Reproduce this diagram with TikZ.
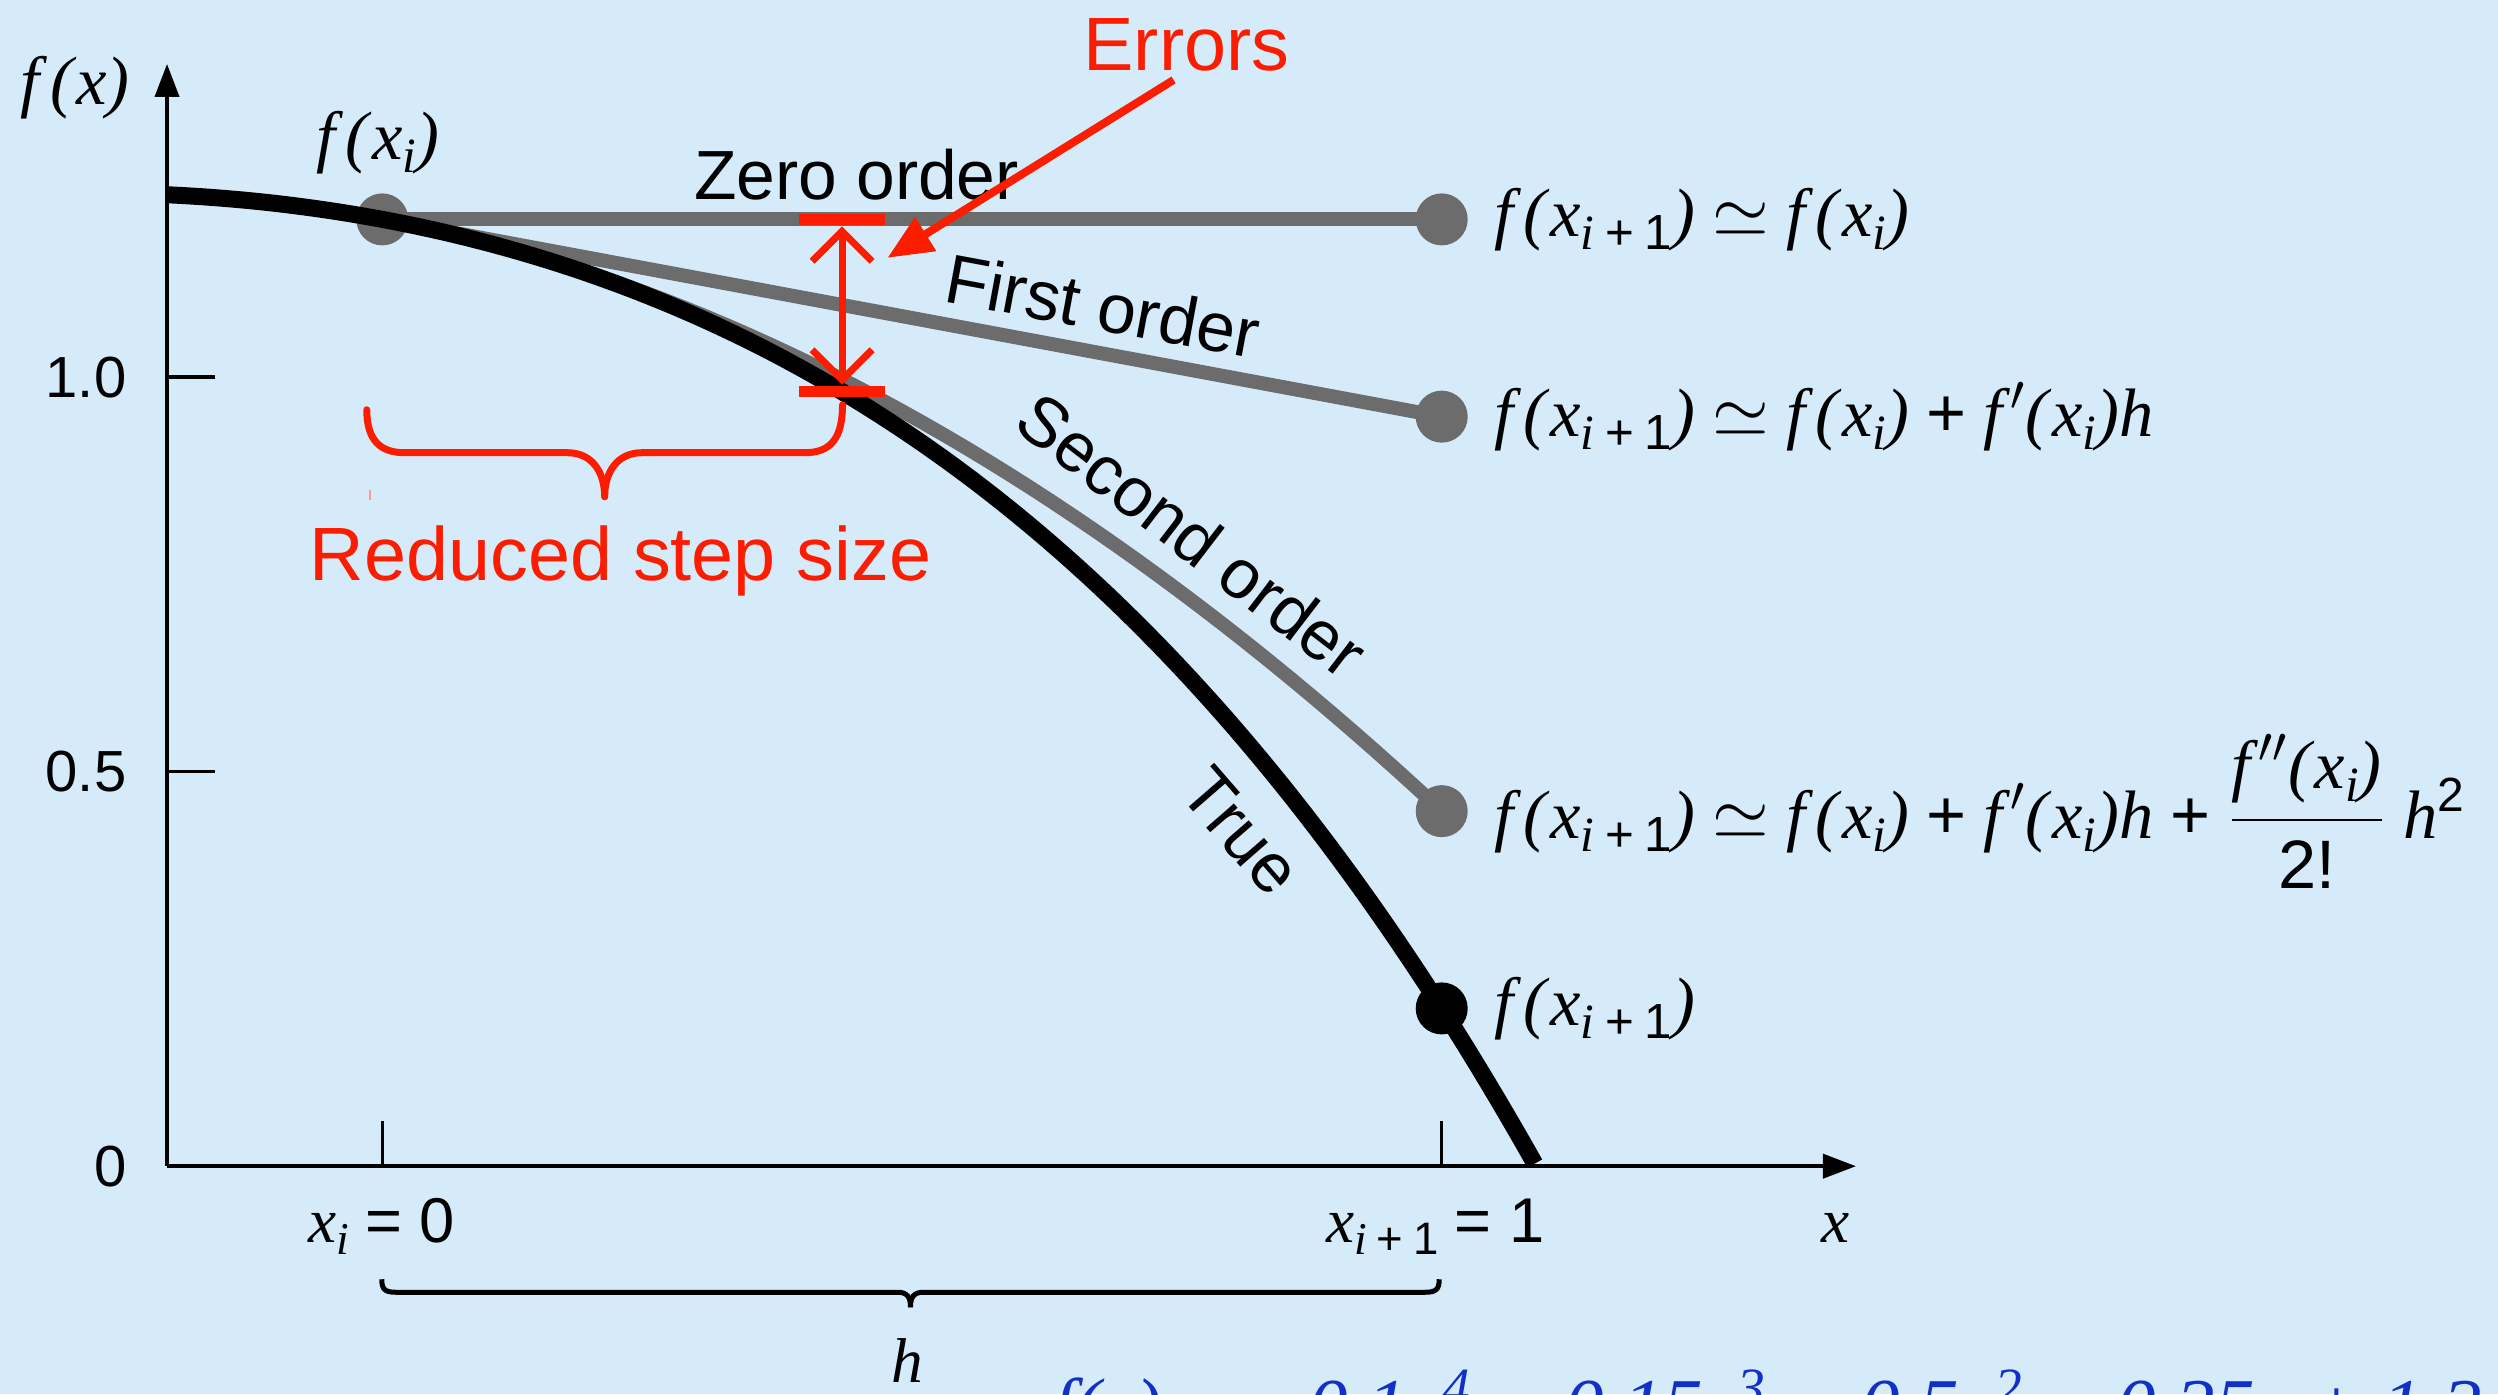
\documentclass[tikz,border=0pt]{standalone}
\usepackage{fontspec}
\setmainfont{Liberation Serif}
\setsansfont{Liberation Sans}
\usetikzlibrary{arrows.meta,calc}
\definecolor{bg}{RGB}{213,235,250}
\definecolor{lgray}{RGB}{108,108,108}
\definecolor{ered}{RGB}{252,28,0}
\definecolor{fblue}{RGB}{18,48,200}
\newcommand\lo[1]{\raisebox{-0.42ex}{\scalebox{0.72}{#1}}}
\newcommand\xsi{\textit{x}\lo{\textit{i}}}
\newcommand\xsip{\textit{x}\lo{\textit{i}\hspace{0.22em}\textsf{+}\hspace{0.22em}\textsf{1}}}
\newcommand\fof[1]{\textit{f}\kern0.04em\textit{(}#1\textit{)}}
\tikzset{
  mathlbl/.style={font=\fontsize{19.5}{23}\selectfont, inner sep=0pt},
  axlbl/.style={font=\fontsize{18}{22}\selectfont, inner sep=0pt},
  sanslbl/.style={font=\sffamily\fontsize{19.8}{23}\selectfont, inner sep=0pt},
  redlbl/.style={font=\sffamily\fontsize{21.5}{26}\selectfont, text=ered, inner sep=0pt},
  ticklbl/.style={font=\sffamily\fontsize{16.5}{20}\selectfont, inner sep=0pt},
  graydot/.style={circle, fill=lgray, minimum size=0.52cm, inner sep=0pt},
  blackdot/.style={circle, fill=black, minimum size=0.52cm, inner sep=0pt},
  axisline/.style={line width=0.04cm, -{Triangle[length=0.33cm,width=0.24cm]}},
  tickline/.style={line width=0.035cm},
  graycurve/.style={line width=0.14cm, draw=lgray},
  truecurve/.style={line width=0.17cm, draw=black},
  redline/.style={draw=ered, line width=0.07cm},
}
\begin{document}
\begin{tikzpicture}
\useasboundingbox (0,0) rectangle (24.98,13.94);
\clip (0,0) rectangle (24.98,13.94);
\fill[bg] (0,0) rectangle (24.98,13.94);
% ---------------- data scope ----------------
\begin{scope}[shift={(3.823,2.278)}, x=10.594cm, y=7.89cm]
  \coordinate (O) at (-0.2032,0);
  \coordinate (ytop) at (-0.2032,1.397);
  \coordinate (xend) at (1.391,0);
  \coordinate (tk10) at (-0.2032,1);
  \coordinate (tk05) at (-0.2032,0.5);
  \coordinate (tkx0) at (0,0);
  \coordinate (tkx1) at (1,0);
  \draw[axisline] (O) -- (ytop);
  \draw[axisline] (O) -- (xend);
  \draw[tickline] (tk10) -- ++(0.48cm,0);
  \draw[tickline] (tk05) -- ++(0.48cm,0);
  \draw[tickline] (tkx0) -- ++(0,0.45cm);
  \draw[tickline] (tkx1) -- ++(0,0.45cm);
  % dots
  \node[graydot] (fi) at (0,1.2) {};
  \node[graydot] (z1) at (1,1.2) {};
  \node[graydot] (f1) at (1,0.95) {};
  \node[graydot] (s1) at (1,0.45) {};
  % approximations
  \draw[graycurve] (fi.center) -- (z1.center);
  \draw[graycurve] (fi.center) -- (f1.center);
  \draw[graycurve] plot[domain=0:1, samples=50] (\x,{1.2-0.25*\x-0.5*\x*\x});
  % true function
  \draw[truecurve] plot[domain=-0.2032:1.0892, samples=120]
     (\x,{-0.1*(\x)*(\x)*(\x)*(\x)-0.15*(\x)*(\x)*(\x)-0.5*(\x)*(\x)-0.25*(\x)+1.2});
  \node[blackdot] (t1) at (1,0.2) {};
  % error bar
  \coordinate (eT) at (0.434,1.2);
  \coordinate (eB) at (0.434,0.9815);
\end{scope}
% ---------------- labels ----------------
\node[ticklbl, anchor=east] (l10) at ([xshift=-0.4cm]tk10) {1.0};
\node[ticklbl, anchor=east] (l05) at ([xshift=-0.4cm]tk05) {0.5};
\node[ticklbl, anchor=east] (l00) at ([xshift=-0.4cm]O) {0};
\node[mathlbl, anchor=west] (zeq) at ([xshift=0.25cm]z1.east) {\fof{\xsip}\ $\simeq$\ \fof{\xsi}};
\node[mathlbl, anchor=west] (feq) at ([xshift=0.25cm]f1.east) {\fof{\xsip}\ $\simeq$\ \fof{\xsi}\ \textsf{+}\ \textit{f}$'$\textit{(}\xsi\textit{)h}};
\node[mathlbl, anchor=west] (seq) at ([xshift=0.25cm]s1.east) {\fof{\xsip}\ $\simeq$\ \fof{\xsi}\ \textsf{+}\ \textit{f}$'$\textit{(}\xsi\textit{)h}\ \textsf{+}\ $\displaystyle\frac{\hbox{\textit{f}$''$\textit{(}\xsi\textit{)}}}{\hbox{\sffamily 2!}}$\ \textit{h}\textsuperscript{\sffamily 2}};
\node[mathlbl, anchor=west] (teq) at ([xshift=0.25cm]t1.east) {\fof{\xsip}};
\begin{scope}[x=0.01cm, y=-0.01cm, yshift=13.94cm]
  \node[mathlbl] (fxlbl) at (75,88) {\fof{\textit{x}}};
  \node[mathlbl] (filbl) at (378,143) {\fof{\xsi}};
  \node[sanslbl] (zlbl) at (857,175) {Zero order};
  \node[sanslbl, rotate=-10.5] (flbl) at (1104,306) {First order};
  \node[sanslbl, rotate=-37.5] (slbl) at (1193,535) {Second order};
  \node[sanslbl, rotate=-49] (tlbl) at (1242,832) {True};
  \node[axlbl, anchor=base] (xi0) at (382,1243) {\xsi\ \textsf{= 0}};
  \node[axlbl, anchor=base] (xi1) at (1436,1243) {\xsip\ \textsf{= 1}};
  \node[axlbl, anchor=base] (xlbl) at (1837,1243) {\textit{x}};
  \node[axlbl, anchor=base] (hlbl) at (908,1383) {\textit{h}};
  % brace h
  \draw[line width=0.05cm] (382,1280) .. controls (382,1290) and (385,1293) .. (396,1293) -- (898,1293) .. controls (908,1293) and (911,1298) .. (911,1308);
  \draw[line width=0.05cm] (1440,1280) .. controls (1440,1290) and (1437,1293) .. (1426,1293) -- (924,1293) .. controls (914,1293) and (911,1298) .. (911,1308);
  % formula
  \node[anchor=base west, font=\fontsize{22.5}{27}\selectfont\itshape, text=fblue, inner sep=0pt] (formula) at (1052,1434)
     {f(x) = −0.1x\textsuperscript{4} − 0.15x\textsuperscript{3} − 0.5x\textsuperscript{2} − 0.25x + 1.2};
  % red annotations
  \node[redlbl] (errors) at (1187,45) {Errors};
  \node[redlbl] (rss) at (621,561) {Reduced step size};
  \coordinate (errtip) at (888,258);
  \draw[ered, line width=0.08cm, -{Triangle[length=0.45cm,width=0.38cm]}, shorten <=0.15cm] (errors.south) -- (errtip);
  \draw[redline, line cap=round] (367,410) .. controls (367,440) and (380,453) .. (405,453) -- (568,453) .. controls (592,453) and (605,472) .. (605,497);
  \draw[redline, line cap=round] (843,405) .. controls (843,440) and (830,453) .. (805,453) -- (642,453) .. controls (618,453) and (605,472) .. (605,497);
  \draw[ered!45, line width=0.02cm] (370,490) -- (370,500);
\end{scope}
\draw[ered, line width=0.11cm] ([xshift=-0.43cm]eT) -- ([xshift=0.43cm]eT);
\draw[ered, line width=0.11cm] ([xshift=-0.43cm]eB) -- ([xshift=0.43cm]eB);
\draw[ered, line width=0.07cm, {Straight Barb[length=0.3cm,width=0.6cm]}-{Straight Barb[length=0.3cm,width=0.6cm]}, shorten <=0.07cm, shorten >=0.07cm] (eT) -- (eB);
\end{tikzpicture}
\end{document}
